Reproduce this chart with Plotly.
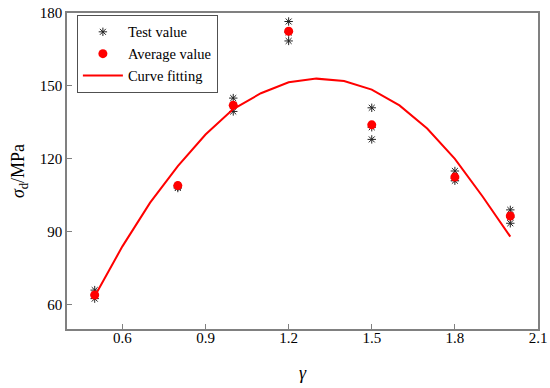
import plotly.graph_objects as go

gamma = [0.5, 0.8, 1.0, 1.2, 1.5, 1.8, 2.0]
test_1 = [66.0, 109.0, 145.0, 176.5, 141.0, 115.0, 99.0]
test_2 = [64.0, 108.5, 142.0, 172.0, 133.0, 112.0, 96.0]
test_3 = [62.5, 108.0, 139.5, 168.5, 128.0, 111.0, 93.5]
average = [64.0, 109.0, 142.0, 172.5, 134.0, 112.5, 96.5]

fit_x = [0.5, 0.6, 0.7, 0.8, 0.9, 1.0, 1.1, 1.2, 1.3, 1.4, 1.5, 1.6, 1.7, 1.8, 1.9, 2.0]
fit_y = [63.5, 84.0, 102.0, 117.0, 130.0, 140.5, 147.0, 151.5, 153.0, 152.0, 148.5, 142.0, 132.5, 120.0, 104.5, 88.0]

test_x = gamma * 3
test_y = test_1 + test_2 + test_3

FONT = "Liberation Serif"
fig = go.Figure()
fig.add_trace(go.Scatter(
    x=test_x, y=test_y, mode="markers", name="Test value",
    marker=dict(symbol="asterisk-open", size=7, color="#222", line=dict(color="#222", width=1)),
))
fig.add_trace(go.Scatter(
    x=gamma, y=average, mode="markers", name="Average value",
    marker=dict(symbol="circle", size=9, color="red"),
))
fig.add_trace(go.Scatter(
    x=fit_x, y=fit_y, mode="lines", name="Curve fitting",
    line=dict(color="red", width=2),
))

axis_common = dict(
    showgrid=False, zeroline=False, showline=True, linecolor="#808080", linewidth=1.5,
    mirror=True, ticks="inside", ticklen=5, tickcolor="#808080", tickwidth=1,
    tickfont=dict(family=FONT, size=15, color="black"), automargin=False,
)
fig.update_xaxes(range=[0.4, 2.1], tickvals=[0.6, 0.9, 1.2, 1.5, 1.8, 2.1],
                 ticktext=["0.6", "0.9", "1.2", "1.5", "1.8", "2.1"],
                 ticklabelstandoff=-6,
                 title=dict(text="<i>γ</i>", font=dict(family=FONT, size=18, color="black"), standoff=22),
                 **axis_common)
fig.update_yaxes(range=[50, 180], tickvals=[60, 90, 120, 150, 180],
                 title=dict(text="<i>σ</i><sub>d</sub>/MPa", font=dict(family=FONT, size=18, color="black"), standoff=10),
                 **axis_common)

fig.update_layout(
    width=550, height=388,
    margin=dict(l=67, r=12, t=13, b=59),
    plot_bgcolor="white", paper_bgcolor="white",
    showlegend=True,
    legend=dict(x=0.021, y=0.994, xanchor="left", yanchor="top",
                bordercolor="#505050", borderwidth=1, bgcolor="white",
                font=dict(family=FONT, size=14.5, color="black"),
                tracegroupgap=0, itemwidth=40),
)
fig.write_html("out.html", config={"displayModeBar": False},
               post_script="document.body.style.margin='0';document.body.style.overflow='hidden';")
